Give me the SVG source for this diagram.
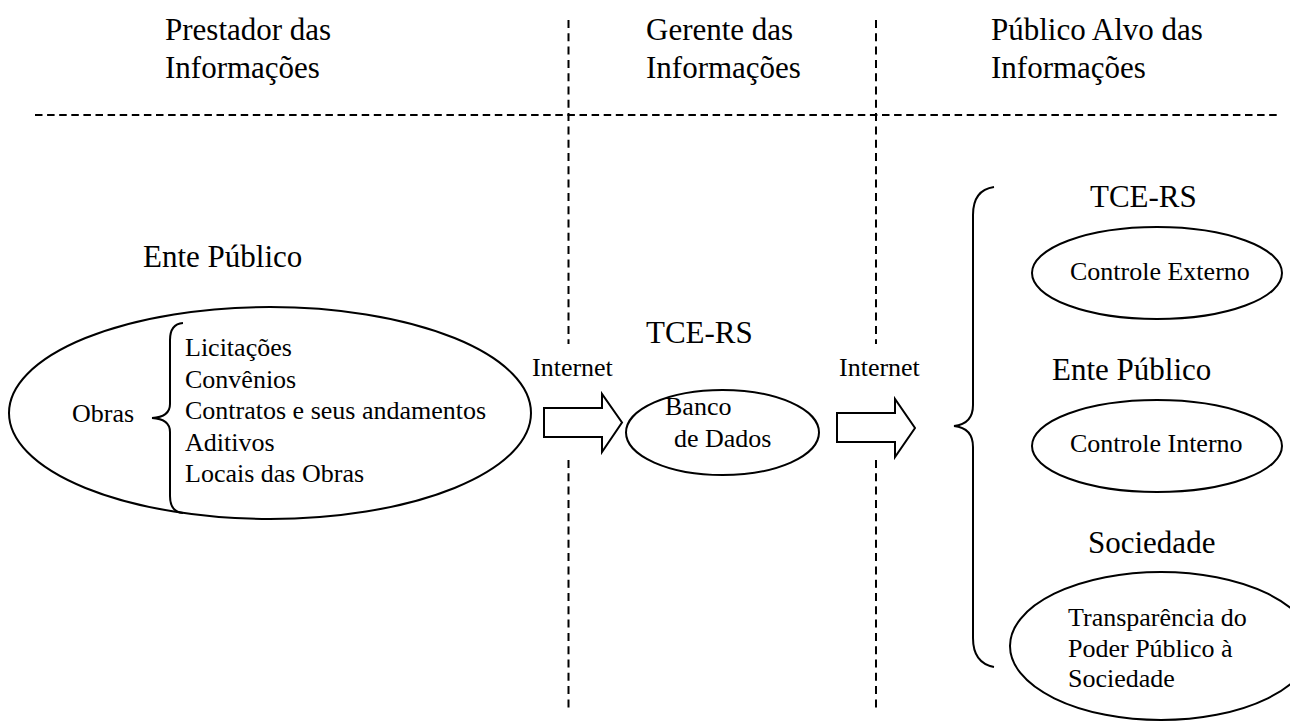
<svg xmlns="http://www.w3.org/2000/svg" width="1290" height="722" viewBox="0 0 1290 722">
<style>
text{font-family:"Liberation Serif","Times New Roman","DejaVu Serif",serif;fill:#000}
.h{font-size:31px}
.b{font-size:31px}
.s{font-size:26px}
.shape{fill:none;stroke:#000;stroke-width:2}
.dv{stroke:#000;stroke-width:2;stroke-dasharray:8 5.3;fill:none}
.dh{stroke:#000;stroke-width:2;stroke-dasharray:7.5 4.6;fill:none}
.arrow{fill:#fff;stroke:#000;stroke-width:2;stroke-linejoin:miter}
</style>
<rect width="1290" height="722" fill="#fff"/>
<g id="dividers">
<line class="dh" x1="35" y1="115" x2="1278" y2="115"/>
<line class="dv" x1="568.5" y1="20" x2="568.5" y2="344"/>
<line class="dv" x1="568.5" y1="460" x2="568.5" y2="712"/>
<line class="dv" x1="876" y1="20" x2="876" y2="344"/>
<line class="dv" x1="876" y1="460" x2="876" y2="712"/>
</g>
<g id="headers">
<text class="h" x="165" y="40">Prestador das</text>
<text class="h" x="165" y="78">Informações</text>
<text class="h" x="646" y="40">Gerente das</text>
<text class="h" x="646" y="78">Informações</text>
<text class="h" x="991" y="40">Público Alvo das</text>
<text class="h" x="991" y="78">Informações</text>
</g>
<g id="ente-publico">
<text class="b" x="143" y="267">Ente Público</text>
<ellipse class="shape" cx="270" cy="413" rx="261" ry="106"/>
<text class="s" x="72" y="422">Obras</text>
<path class="shape" d="M183,323 Q170,324 170,340 L170,404 Q170,417 152,418 Q170,419 170,432 L170,496 Q170,512 183,513"/>
<text class="s" x="185" y="356">Licitações</text>
<text class="s" x="185" y="387.5">Convênios</text>
<text class="s" x="185" y="419">Contratos e seus andamentos</text>
<text class="s" x="185" y="450.5">Aditivos</text>
<text class="s" x="185" y="482">Locais das Obras</text>
</g>
<g id="banco-dados">
<text class="b" x="646" y="343">TCE-RS</text>
<ellipse class="shape" cx="722.5" cy="432.5" rx="96.5" ry="42.5"/>
<text class="s" x="665" y="415">Banco</text>
<text class="s" x="674" y="447">de Dados</text>
</g>
<g id="publico-alvo">
<path class="shape" d="M994,187 Q973,190 973,215 L973,405 Q973,424 954,426 Q973,428 973,447 L973,638 Q973,663 994,667"/>
</g>
<g id="controle-externo">
<text class="b" x="1090" y="207">TCE-RS</text>
<ellipse class="shape" cx="1157" cy="273" rx="125" ry="46"/>
<text class="s" x="1070" y="280">Controle Externo</text>
</g>
<g id="controle-interno">
<text class="b" x="1052" y="380">Ente Público</text>
<ellipse class="shape" cx="1157" cy="446" rx="125" ry="46"/>
<text class="s" x="1070" y="452">Controle Interno</text>
</g>
<g id="sociedade">
<text class="b" x="1088" y="553">Sociedade</text>
<ellipse class="shape" cx="1161" cy="646" rx="151" ry="74"/>
<text class="s" x="1068" y="626">Transparência do</text>
<text class="s" x="1068" y="657">Poder Público à</text>
<text class="s" x="1068" y="687">Sociedade</text>
</g>
<g id="connectors">
<text class="s" x="532" y="376">Internet</text>
<polygon class="arrow" points="544,408 602,408 602,394 622,422.5 602,452 602,437 544,437"/>
<text class="s" x="839" y="376">Internet</text>
<polygon class="arrow" points="837,413 895,413 895,399 915,428 895,457 895,442 837,442"/>
</g>
</svg>
